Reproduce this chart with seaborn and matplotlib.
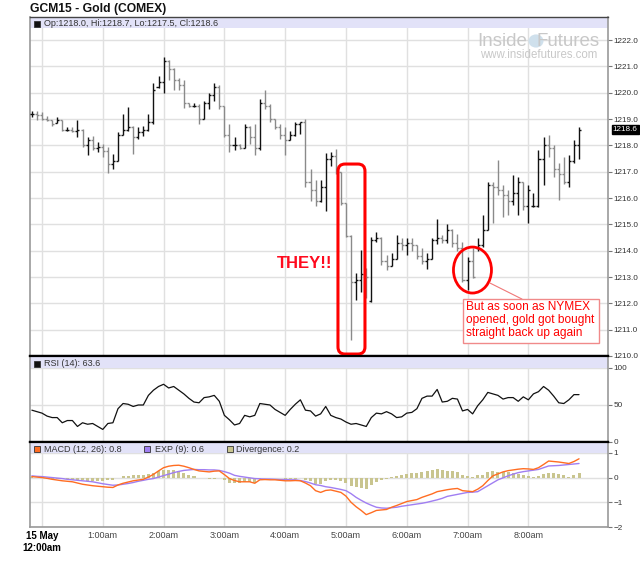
import numpy as np
import pandas as pd
import matplotlib
matplotlib.use("Agg")
import matplotlib.pyplot as plt
import matplotlib.transforms as mtransforms
from matplotlib.patches import FancyBboxPatch, Ellipse, Rectangle, Circle
import seaborn as sns

sns.set_style("white")
plt.rcParams['font.family'] = ['Liberation Sans', 'DejaVu Sans']

# ---------------- data ----------------
bar_times = pd.date_range("2015-05-14 23:50", periods=109, freq="5min")

opens = [1219.2, 1219.2, 1219.15, 1219.0, 1218.95, 1218.85, 1218.95, 1218.6, 1218.6, 1218.55,
         1218.6, 1218.0, 1218.2, 1217.9, 1217.95, 1217.8, 1217.3, 1217.4, 1218.4, 1218.6,
         1218.7, 1218.3, 1218.5, 1218.6, 1218.9, 1220.2, 1220.4, 1221.2, 1220.9, 1220.5,
         1220.3, 1219.6, 1219.5, 1219.5, 1219.0, 1219.6, 1219.9, 1220.2, 1219.5, 1218.4,
         1218.0, 1218.0, 1217.9, 1218.7, 1218.3, 1217.9, 1219.6, 1219.5, 1219.0, 1218.7,
         1218.4, 1218.2, 1218.4, 1218.8, 1218.9, 1216.6, 1216.3, 1215.9, 1216.4, 1217.5,
         1217.6, 1217.0, 1215.8, 1214.55, 1212.8, 1212.9, 1213.1, 1212.1, 1214.4, 1214.5,
         1213.6, 1213.4, 1213.7, 1214.3, 1214.2, 1214.3, 1214.2, 1213.8, 1213.6, 1213.7,
         1214.4, 1214.5, 1214.4, 1214.8, 1214.3, 1214.1, 1212.9, 1213.6, 1214.1, 1214.2,
         1214.8, 1216.5, 1216.4, 1216.3, 1216.1, 1215.9, 1216.2, 1216.6, 1215.7, 1215.7,
         1215.7, 1217.5, 1218.0, 1217.9, 1217.1, 1216.9, 1216.6, 1217.4, 1218.0]
highs = [1219.31, 1219.31, 1219.25, 1219.12, 1218.98, 1219.09, 1218.98, 1218.69, 1218.69, 1218.98,
         1218.62, 1218.31, 1218.37, 1218.12, 1218.06, 1217.94, 1217.69, 1218.5, 1219.19, 1219.44,
         1218.75, 1218.69, 1218.75, 1219.19, 1220.37, 1220.62, 1221.37, 1221.25, 1220.95, 1220.56,
         1220.5, 1219.62, 1219.6, 1219.56, 1219.69, 1220.0, 1220.37, 1220.31, 1219.5, 1218.81,
         1218.31, 1218.06, 1218.81, 1218.75, 1218.81, 1219.75, 1220.12, 1219.56, 1219.0, 1218.81,
         1218.69, 1218.56, 1218.87, 1218.9, 1219.0, 1217.1, 1216.7, 1216.7, 1217.7, 1217.75,
         1217.87, 1217.0, 1215.8, 1214.6, 1213.15, 1214.02, 1213.34, 1214.53, 1214.72, 1214.53,
         1213.83, 1213.9, 1214.59, 1214.48, 1214.48, 1214.5, 1214.2, 1214.1, 1213.9, 1214.5,
         1215.22, 1214.6, 1215.03, 1214.84, 1214.65, 1214.34, 1213.77, 1214.09, 1214.5, 1215.35,
         1216.62, 1216.62, 1217.44, 1216.49, 1216.3, 1216.87, 1216.81, 1216.6, 1216.49, 1216.18,
         1217.82, 1218.33, 1218.39, 1218.01, 1217.32, 1217.57, 1217.63, 1218.2, 1218.7]
lows = [1219.06, 1218.98, 1218.98, 1218.94, 1218.75, 1218.85, 1218.56, 1218.56, 1218.52, 1218.31,
        1217.94, 1217.62, 1217.81, 1217.75, 1217.56, 1216.94, 1217.12, 1217.4, 1218.4, 1218.56,
        1217.69, 1218.25, 1218.37, 1218.56, 1218.81, 1220.19, 1220.0, 1220.5, 1220.12, 1220.12,
        1219.4, 1219.44, 1219.45, 1218.81, 1219.0, 1219.37, 1219.69, 1219.37, 1218.31, 1217.75,
        1217.81, 1217.87, 1217.9, 1218.06, 1217.62, 1217.81, 1219.37, 1218.87, 1218.62, 1218.25,
        1217.62, 1218.2, 1218.37, 1218.44, 1216.4, 1215.9, 1215.7, 1215.85, 1215.5, 1217.2,
        1216.9, 1215.72, 1214.52, 1210.6, 1212.12, 1212.43, 1212.2, 1212.06, 1214.34, 1213.45,
        1213.27, 1213.4, 1213.7, 1214.02, 1213.83, 1214.0, 1213.7, 1213.5, 1213.3, 1213.7,
        1214.27, 1214.3, 1214.3, 1214.14, 1214.0, 1212.82, 1212.5, 1212.95, 1214.0, 1214.15,
        1214.78, 1215.04, 1216.11, 1215.29, 1215.35, 1215.73, 1215.35, 1215.54, 1215.04, 1215.67,
        1215.67, 1216.49, 1217.57, 1216.81, 1215.92, 1216.55, 1216.43, 1217.32, 1217.5]
closes = [1219.2, 1219.15, 1219.0, 1218.95, 1218.8, 1218.95, 1218.6, 1218.6, 1218.55, 1218.6,
          1218.0, 1218.2, 1217.9, 1217.95, 1217.8, 1217.3, 1217.4, 1218.4, 1218.6, 1218.7,
          1218.3, 1218.5, 1218.6, 1218.9, 1220.1, 1220.4, 1221.2, 1220.9, 1220.5, 1220.3,
          1219.6, 1219.5, 1219.5, 1219.0, 1219.6, 1219.9, 1220.2, 1219.5, 1218.4, 1218.0,
          1218.0, 1217.9, 1218.7, 1218.3, 1217.9, 1219.6, 1219.5, 1219.0, 1218.7, 1218.4,
          1218.2, 1218.4, 1218.8, 1218.9, 1216.6, 1216.3, 1215.9, 1216.4, 1217.5, 1217.6,
          1217.0, 1215.8, 1214.55, 1212.8, 1212.9, 1213.1, 1213.0, 1214.4, 1214.5, 1213.6,
          1213.4, 1213.7, 1214.3, 1214.2, 1214.3, 1214.2, 1213.8, 1213.6, 1213.7, 1214.4,
          1214.5, 1214.4, 1214.8, 1214.3, 1214.1, 1212.9, 1213.6, 1213.0, 1214.2, 1214.8,
          1216.5, 1216.4, 1216.3, 1216.1, 1215.9, 1216.2, 1216.6, 1215.7, 1216.3, 1215.7,
          1217.5, 1218.0, 1217.9, 1217.1, 1216.9, 1216.6, 1217.4, 1218.0, 1218.6]

rsi = [43, 41, 39, 35, 33, 33, 26, 29, 29, 21, 26, 24, 25, 21, 17, 25, 26, 45, 52, 51,
       48, 50, 50, 63, 70, 75, 78, 73, 75, 70, 65, 59, 54, 53, 60, 61, 63, 55, 36, 30,
       23, 25, 36, 34, 36, 52, 51, 50, 44, 40, 36, 44, 51, 57, 43, 42, 35, 38, 48, 36,
       33, 31, 27, 24, 25, 23, 21, 33, 39, 38, 41, 38, 33, 34, 39, 40, 45, 59, 62, 62,
       71, 54, 55, 59, 58, 42, 44, 38, 49, 57, 67, 65, 63, 58, 60, 60, 55, 61, 57, 65,
       68, 75, 70, 62, 53, 52, 57, 64, 64]

macd = [0.04, 0.02, 0.0, -0.03, -0.07, -0.1, -0.13, -0.15, -0.17, -0.22,
        -0.27, -0.3, -0.33, -0.35, -0.37, -0.39, -0.4, -0.3, -0.23, -0.18,
        -0.13, -0.1, -0.07, 0.02, 0.13, 0.27, 0.4, 0.46, 0.49, 0.5,
        0.46, 0.4, 0.33, 0.27, 0.25, 0.23, 0.26, 0.27, 0.12, -0.04,
        -0.12, -0.17, -0.17, -0.17, -0.23, -0.09, -0.08, -0.09, -0.09, -0.11,
        -0.13, -0.13, -0.12, -0.13, -0.22, -0.33, -0.53, -0.6, -0.52, -0.5,
        -0.55, -0.6, -0.75, -1.0, -1.18, -1.33, -1.5, -1.42, -1.33, -1.31,
        -1.29, -1.2, -1.13, -1.05, -0.97, -0.93, -0.89, -0.8, -0.73, -0.66,
        -0.57, -0.53, -0.49, -0.46, -0.44, -0.53, -0.55, -0.57, -0.47, -0.33,
        -0.12, 0.07, 0.15, 0.23, 0.28, 0.31, 0.34, 0.36, 0.35, 0.33,
        0.4, 0.53, 0.67, 0.65, 0.63, 0.6, 0.57, 0.65, 0.76]

exp9 = [0.07, 0.05, 0.04, 0.02, 0.0, -0.02, -0.04, -0.07, -0.09, -0.11,
        -0.13, -0.15, -0.17, -0.21, -0.25, -0.28, -0.31, -0.3, -0.27, -0.24,
        -0.2, -0.15, -0.11, -0.07, -0.04, 0.02, 0.08, 0.14, 0.2, 0.25,
        0.29, 0.31, 0.33, 0.32, 0.32, 0.31, 0.31, 0.29, 0.24, 0.18,
        0.09, 0.05, 0.02, -0.01, -0.04, -0.05, -0.06, -0.06, -0.07, -0.08,
        -0.08, -0.09, -0.09, -0.12, -0.16, -0.22, -0.29, -0.32, -0.37, -0.4,
        -0.44, -0.48, -0.53, -0.65, -0.8, -0.92, -1.03, -1.12, -1.2, -1.23,
        -1.24, -1.22, -1.2, -1.16, -1.13, -1.1, -1.07, -1.04, -1.0, -0.95,
        -0.9, -0.84, -0.76, -0.72, -0.68, -0.64, -0.6, -0.59, -0.57, -0.45,
        -0.33, -0.21, -0.09, -0.01, 0.07, 0.14, 0.2, 0.24, 0.27, 0.3,
        0.33, 0.4, 0.47, 0.48, 0.49, 0.51, 0.53, 0.55, 0.57]

divergence = [0.02, -0.02, -0.03, -0.04, -0.05, -0.06, -0.07, -0.07, -0.08, -0.09,
              -0.1, -0.12, -0.13, -0.13, -0.12, -0.11, -0.09, 0.0, 0.05, 0.08,
              0.1, 0.1, 0.1, 0.13, 0.18, 0.25, 0.32, 0.32, 0.29, 0.25,
              0.17, 0.1, 0.05, 0.0, -0.03, -0.05, -0.04, -0.03, -0.1, -0.2,
              -0.22, -0.22, -0.19, -0.16, -0.2, -0.06, -0.03, -0.03, -0.03, -0.03,
              -0.05, -0.04, -0.04, -0.03, -0.08, -0.13, -0.24, -0.27, -0.15, -0.1,
              -0.11, -0.12, -0.22, -0.35, -0.38, -0.41, -0.47, -0.3, -0.17, -0.08,
              -0.05, 0.02, 0.07, 0.11, 0.16, 0.17, 0.18, 0.24, 0.27, 0.29,
              0.33, 0.31, 0.27, 0.26, 0.24, 0.11, 0.05, 0.02, 0.1, 0.12,
              0.21, 0.28, 0.24, 0.24, 0.21, 0.17, 0.14, 0.12, 0.08, 0.03,
              0.07, 0.13, 0.2, 0.17, 0.14, 0.09, 0.04, 0.1, 0.19]

hour_labels = ["15 May\n12:00am", "1:00am", "2:00am", "3:00am", "4:00am",
               "5:00am", "6:00am", "7:00am", "8:00am"]
price_ticks = [1210, 1211, 1212, 1213, 1214, 1215, 1216, 1217, 1218, 1219, 1220, 1221, 1222]

for arr in (opens, highs, lows, closes, rsi, macd, exp9, divergence):
    assert len(arr) == len(bar_times), len(arr)

# ---------------- frame ----------------
origin = pd.Timestamp("2015-05-15 00:00")
t = np.asarray((bar_times - origin) / pd.Timedelta(minutes=1), dtype=float)
o = np.array(opens); h = np.array(highs); l = np.array(lows); c = np.array(closes)
df = pd.DataFrame({"t": t, "rsi": rsi, "macd": macd, "exp9": exp9, "div": divergence})

W, H = 640, 562
fig = plt.figure(figsize=(6.4, 5.62), dpi=100)
L, R = 30, 608
ax1 = fig.add_axes([L / W, 1 - 356 / H, (R - L) / W, 339 / H])
ax2 = fig.add_axes([L / W, 1 - 442 / H, (R - L) / W, 86 / H])
ax3 = fig.add_axes([L / W, 1 - 527 / H, (R - L) / W, 85 / H])

XMIN, XMAX = -11.84, 558.6
band_col = "#e2e2f8"
grid_col = "#e0e0e0"
tick_col = "#333333"
hours = [0, 60, 120, 180, 240, 300, 360, 420, 480]

for ax in (ax1, ax2, ax3):
    ax.set_xlim(XMIN, XMAX)
    ax.set_xticks(hours)
    ax.grid(True, color=grid_col, lw=1)
    ax.set_axisbelow(True)
    ax.yaxis.tick_right()
    ax.tick_params(axis="y", which="both", direction="out", length=3, width=0.8,
                   color="#777777", labelsize=5.9, labelcolor=tick_col, pad=1.2)
    ax.tick_params(axis="x", length=0)
    for s in ("left", "right"):
        ax.spines[s].set_color("#999999")
        ax.spines[s].set_linewidth(1.2)

# ---- price panel ----
ax1.set_ylim(1210, 1222.875)
ax1.set_yticks(price_ticks)
ax1.set_yticklabels([f"{v:.1f}" for v in price_ticks])
ax1.set_xticklabels([])
ax1.axhspan(1222.46, 1222.875, color=band_col, zorder=0.6, lw=0)
up = c >= o
cols = np.where(up, "#111111", "#8a8a8a")
ax1.vlines(t, l, h, colors=cols, lw=1.0, zorder=3)
ax1.hlines(o, t - 2.0, t, colors=cols, lw=1.0, zorder=3)
ax1.hlines(c, t, t + 2.0, colors=cols, lw=1.0, zorder=3)
ax1.spines["top"].set_color("#444444")
ax1.spines["top"].set_linewidth(1.0)
ax1.spines["bottom"].set_color("black")
ax1.spines["bottom"].set_linewidth(1.6)

# last price label
btr = mtransforms.blended_transform_factory(ax1.transAxes, ax1.transData)
ax1.text(1.0085, closes[-1], f"{closes[-1]:.1f}", transform=btr, ha="left", va="center",
         fontsize=5.9, color="white",
         bbox=dict(boxstyle="square,pad=0.12", fc="black", ec="black"), zorder=10)

# annotations
px = 60.8 / 60.0          # pixels per minute
py = 26.33                # pixels per price unit
def xm(xp):
    return (xp - 42) / px
def yp(ypix):
    return 1222 - (ypix - 40) / py

rect = FancyBboxPatch((xm(338), yp(354)), xm(365) - xm(338), yp(164) - yp(354),
                      boxstyle="round,pad=0,rounding_size=7",
                      mutation_aspect=(1 / py) / (1 / px),
                      fill=False, ec="#ff0000", lw=2.2, zorder=6)
ax1.add_patch(rect)
ax1.text(xm(277), yp(263), "THEY!!", color="#ff0a1e", fontsize=12, fontweight="bold",
         ha="left", va="center", zorder=6)
ell = Ellipse((xm(472.5), yp(270)), 38 / px, 46 / py, fill=False, ec="#ff0000", lw=2.0, zorder=6)
ax1.add_patch(ell)
ax1.plot([xm(490), xm(522)], [yp(283), yp(299)], color="#f07878", lw=0.8, zorder=6)
box = Rectangle((xm(463), yp(343)), xm(599) - xm(463), yp(299) - yp(343),
                fc="white", ec="#f08a8a", lw=1.0, zorder=6)
ax1.add_patch(box)
ax1.text(xm(466), yp(301), "But as soon as NYMEX\nopened, gold got bought\nstraight back up again",
         color="#ff0000", fontsize=8.6, ha="left", va="top", linespacing=1.12, zorder=7)

# ---- RSI panel ----
ax2.set_ylim(0, 116.2)
ax2.set_yticks([0, 50, 100])
ax2.set_yticklabels(["0", "50", "100"])
ax2.set_xticklabels([])
ax2.axhspan(100, 116.2, color=band_col, zorder=0.6, lw=0)
sns.lineplot(data=df, x="t", y="rsi", ax=ax2, color="#111111", lw=0.9, zorder=3)
ax2.set_xlabel(""); ax2.set_ylabel("")
for s in ("top", "bottom"):
    ax2.spines[s].set_color("black")
    ax2.spines[s].set_linewidth(1.6)

# ---- MACD panel ----
ax3.set_ylim(-2, 1.44)
ax3.set_yticks([1, 0, -1, -2])
ax3.set_yticklabels(["1", "0", "\u22121", "\u22122"])
ax3.axhspan(1.0, 1.44, color=band_col, zorder=0.6, lw=0)
ax3.bar(df["t"], df["div"], width=3.0, color="#c9c58f", zorder=2, lw=0)
sns.lineplot(data=df, x="t", y="exp9", ax=ax3, color="#a07ef2", lw=1.0, zorder=3)
sns.lineplot(data=df, x="t", y="macd", ax=ax3, color="#ff6d22", lw=1.0, zorder=4)
ax3.set_xlabel(""); ax3.set_ylabel("")
ax3.spines["top"].set_color("black")
ax3.spines["top"].set_linewidth(1.6)
ax3.spines["bottom"].set_color("#999999")
ax3.spines["bottom"].set_linewidth(1.2)
ax3.set_xticklabels(hour_labels)
ax3.tick_params(axis="x", labelsize=6.5, labelcolor="#444444", pad=3)
first = ax3.get_xticklabels()[0]
first.set_fontweight("bold")
first.set_color("black")
first.set_fontsize(7)

# ---------------- header texts ----------------
def fx(xp):
    return xp / W
def fy(ypix):
    return 1 - ypix / H

fig.text(fx(30), fy(9), "GCM15 - Gold (COMEX)", fontsize=8.7, fontweight="bold",
         color="#111111", ha="left", va="center")

def square(xp, ypc, color):
    fig.patches.append(Rectangle((fx(xp), fy(ypc + 3)), 6 / W, 6 / H, transform=fig.transFigure,
                                 fc=color, ec="#333333", lw=0.6, zorder=5))

square(34, 23.5, "#111111")
fig.text(fx(44), fy(23.5), "Op:1218.0, Hi:1218.7, Lo:1217.5, Cl:1218.6", fontsize=6.5,
         color="#333333", ha="left", va="center")
square(34, 363.5, "#111111")
fig.text(fx(44), fy(363.5), "RSI (14): 63.6", fontsize=6.5, color="#333333",
         ha="left", va="center")
square(34, 449, "#ff6d22")
fig.text(fx(44), fy(449), "MACD (12, 26): 0.8", fontsize=6.5, color="#333333",
         ha="left", va="center")
square(144, 449, "#a07ef2")
fig.text(fx(155), fy(449), "EXP (9): 0.6", fontsize=6.5, color="#333333",
         ha="left", va="center")
square(227, 449, "#c9c58f")
fig.text(fx(236), fy(449), "Divergence: 0.2", fontsize=6.5, color="#333333",
         ha="left", va="center")

# watermark
fig.text(fx(477), fy(42), "Inside", fontsize=13.5, color="#c8c8c8", ha="left", va="center")
fig.text(fx(600), fy(42), "Futures", fontsize=13.5, color="#c8c8c8", ha="right", va="center")
fig.patches.append(Circle((fx(536), fy(41)), 7.5 / W, transform=fig.transFigure,
                          fc="#cfe0ec", ec="none", zorder=1))
fig.text(fx(538.5), fy(55), "www.insidefutures.com", fontsize=8.3, color="#c8c8c8",
         ha="center", va="center")

fig.savefig("out.png", dpi=100)
